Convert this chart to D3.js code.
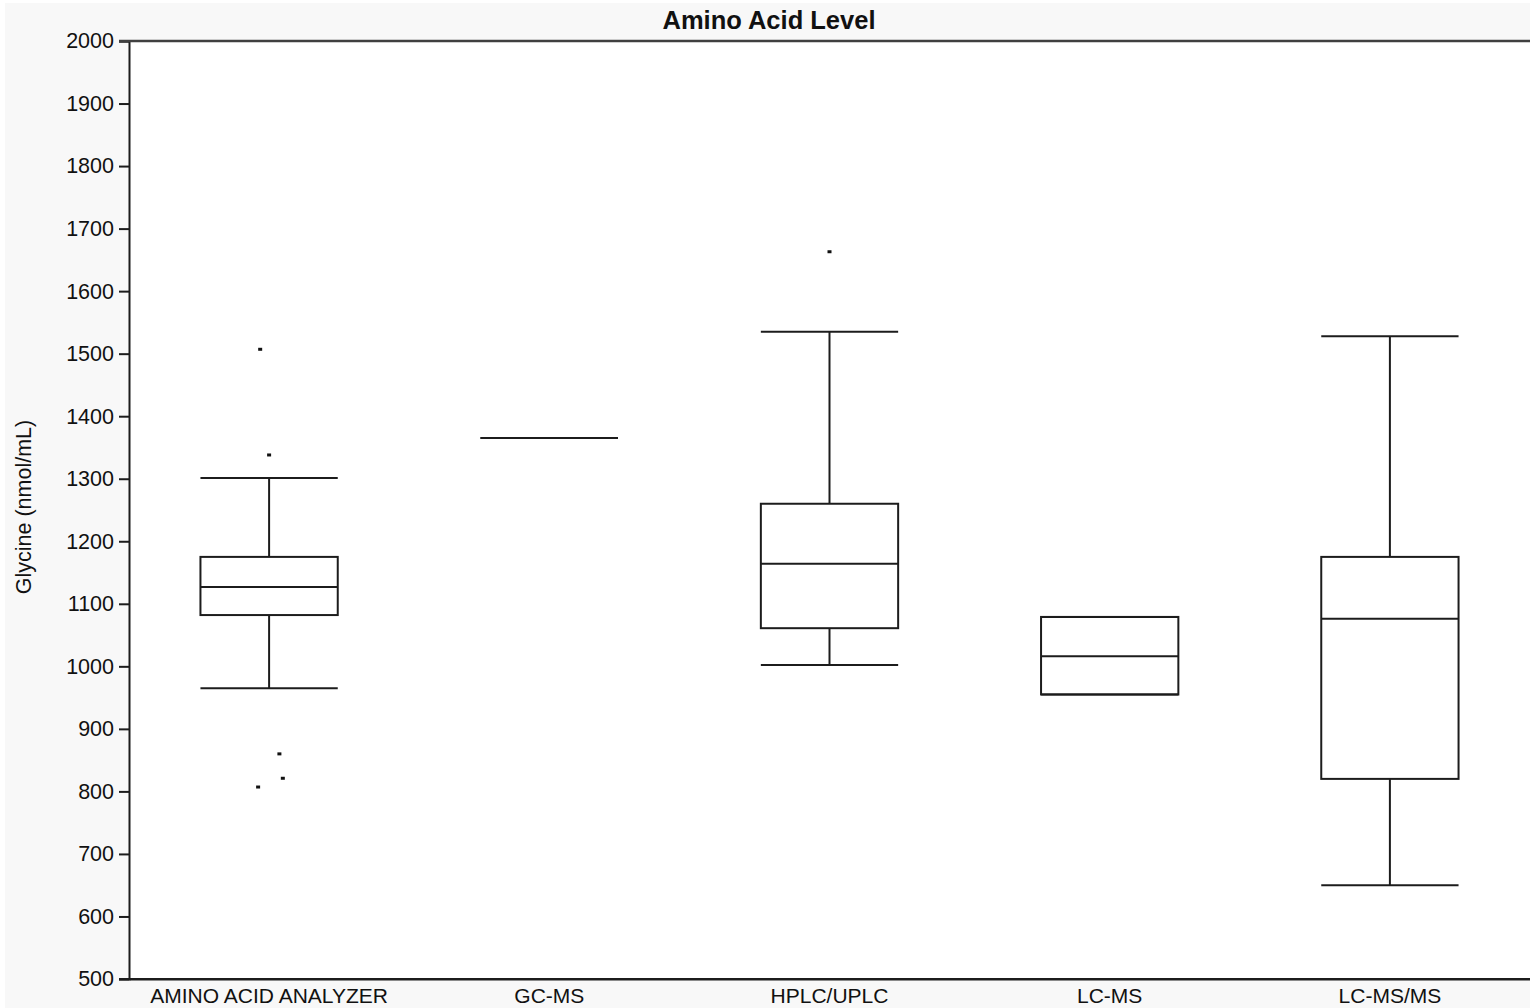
<!DOCTYPE html>
<html>
<head>
<meta charset="utf-8">
<script src="https://cdn.jsdelivr.net/npm/d3@7"></script>
<style>
  html, body { margin: 0; padding: 0; background: #ffffff; }
  svg { display: block; }
  text { font-family: "Liberation Sans", Arial, sans-serif; fill: #111; }
</style>
</head>
<body>
<svg id="chart" width="1530" height="1008"></svg>
<script>
// Glycine level by analytical method: box-and-whisker summary
const categories = ["AMINO ACID ANALYZER", "GC-MS", "HPLC/UPLC", "LC-MS", "LC-MS/MS"];
const whiskerLow  = [965, 1365, 1002, 955, 650];
const q1          = [1082, 1365, 1061, 955, 820];
const median      = [1127, 1365, 1164, 1016, 1076];
const q3          = [1175, 1365, 1260, 1079, 1175];
const whiskerHigh = [1301, 1365, 1535, 1079, 1528];

// Outliers: method index, value, horizontal jitter (fraction of half box width)
const outlierGroup  = [0, 0, 0, 0, 0, 2];
const outlierValue  = [1507, 1338, 860, 821, 807, 1663];
const outlierJitter = [-0.13, 0, 0.15, 0.2, -0.16, 0];

const yTicks = [500, 600, 700, 800, 900, 1000, 1100, 1200, 1300, 1400, 1500, 1600, 1700, 1800, 1900, 2000];
const titleText = "Amino Acid Level";
const yLabel = "Glycine (nmol/mL)";

const W = 1530, H = 1008;
const plot = { left: 129, top: 41, right: 1530, bottom: 979 };
const ink = "#1c1c1c";

const svg = d3.select("#chart");

// outer panel
svg.append("rect").attr("x", 5).attr("y", 3).attr("width", W - 5).attr("height", H - 3).attr("fill", "#f8f8f8");
svg.append("rect")
  .attr("x", plot.left).attr("y", plot.top)
  .attr("width", plot.right - plot.left).attr("height", plot.bottom - plot.top)
  .attr("fill", "#ffffff");

const x = d3.scaleBand().domain(categories).range([plot.left, plot.right]).padding(0);
const y = d3.scaleLinear().domain([500, 2000]).range([plot.bottom, plot.top]);
const boxW = x.bandwidth() * 0.49;
const jitter = d3.scaleLinear().domain([-1, 1]).range([-boxW / 2, boxW / 2]);

const boxes = categories.map((c, i) => ({
  name: c, lo: whiskerLow[i], q1: q1[i], med: median[i], q3: q3[i], hi: whiskerHigh[i]
}));

// Y axis
const yAxis = svg.append("g")
  .attr("transform", `translate(${plot.left},0)`)
  .call(d3.axisLeft(y).tickValues(yTicks).tickSize(10).tickPadding(5).tickFormat(d3.format("d")));
yAxis.select(".domain").attr("stroke", ink).attr("stroke-width", 2);
yAxis.selectAll(".tick line").attr("stroke", ink).attr("stroke-width", 2);
yAxis.selectAll(".tick text").attr("font-size", 21.5).attr("fill", "#111")
  .attr("font-family", "'Liberation Sans', Arial, sans-serif");

// X axis
const xAxis = svg.append("g")
  .attr("transform", `translate(0,${plot.bottom})`)
  .call(d3.axisBottom(x).tickSize(0).tickPadding(9).tickSizeOuter(0));
xAxis.select(".domain").attr("stroke", ink).attr("stroke-width", 2);
xAxis.selectAll(".tick text").attr("font-size", 21).attr("fill", "#111")
  .attr("font-family", "'Liberation Sans', Arial, sans-serif");

// frame lines across the top and bottom
svg.append("line")
  .attr("x1", plot.left - 10).attr("x2", plot.right)
  .attr("y1", y(2000)).attr("y2", y(2000))
  .attr("stroke", "#404040").attr("stroke-width", 2.5);
svg.append("line")
  .attr("x1", plot.left - 10).attr("x2", plot.right)
  .attr("y1", y(500)).attr("y2", y(500))
  .attr("stroke", ink).attr("stroke-width", 2);

// boxes
const g = svg.append("g").attr("stroke", ink).attr("stroke-width", 2).attr("fill", "none");
boxes.forEach(b => {
  const cx = x(b.name) + x.bandwidth() / 2;
  const l = cx - boxW / 2, r = cx + boxW / 2;
  const grp = g.append("g");
  // whiskers
  if (b.hi > b.q3) grp.append("line").attr("x1", cx).attr("x2", cx).attr("y1", y(b.hi)).attr("y2", y(b.q3));
  if (b.lo < b.q1) grp.append("line").attr("x1", cx).attr("x2", cx).attr("y1", y(b.lo)).attr("y2", y(b.q1));
  grp.append("line").attr("x1", l).attr("x2", r).attr("y1", y(b.hi)).attr("y2", y(b.hi));
  grp.append("line").attr("x1", l).attr("x2", r).attr("y1", y(b.lo)).attr("y2", y(b.lo));
  // box
  if (b.q3 > b.q1) {
    grp.append("rect").attr("x", l).attr("y", y(b.q3)).attr("width", boxW).attr("height", y(b.q1) - y(b.q3));
  }
  grp.append("line").attr("x1", l).attr("x2", r).attr("y1", y(b.med)).attr("y2", y(b.med));
});

// outliers
svg.append("g").selectAll("rect")
  .data(outlierValue.map((v, i) => ({ v, cat: categories[outlierGroup[i]], j: outlierJitter[i] })))
  .join("rect")
  .attr("x", d => x(d.cat) + x.bandwidth() / 2 + jitter(d.j) - 2)
  .attr("y", d => y(d.v) - 1.5)
  .attr("width", 4).attr("height", 3)
  .attr("fill", "#111");

// title
svg.append("text")
  .attr("x", 769).attr("y", 29)
  .attr("text-anchor", "middle")
  .attr("font-size", 25.5).attr("font-weight", "bold")
  .text(titleText);

// y label
svg.append("text")
  .attr("transform", `translate(31,${(y(500) + y(2000)) / 2 - 3}) rotate(-90)`)
  .attr("text-anchor", "middle")
  .attr("font-size", 21.5)
  .text(yLabel);
</script>
</body>
</html>
